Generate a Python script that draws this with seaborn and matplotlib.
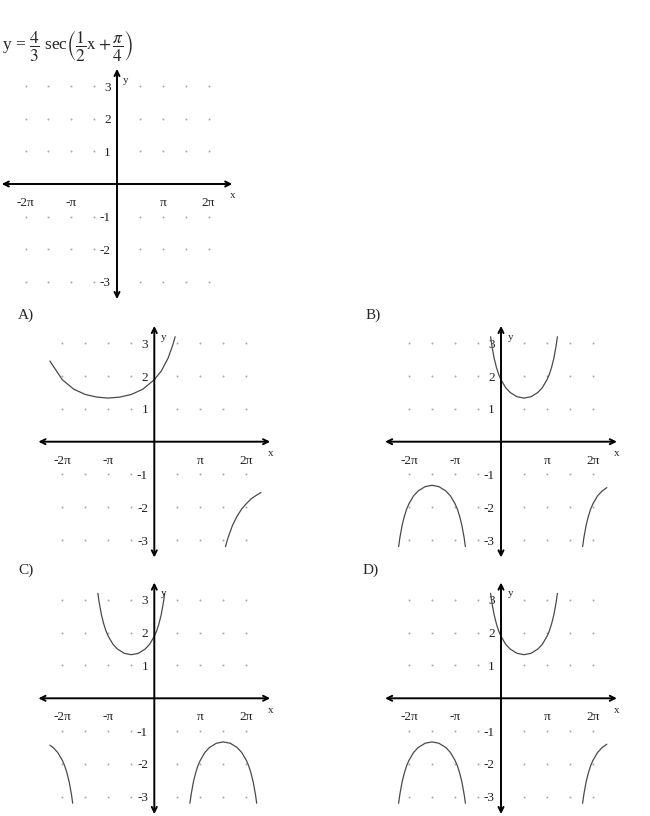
import numpy as np
import seaborn as sns
import matplotlib.pyplot as plt
from matplotlib.ticker import FixedLocator, FixedFormatter

x_ticks = [-2, -1.5, -1, -0.5, 0.5, 1, 1.5, 2]
x_tick_labels = ["-2π", "", "-π", "", "", "π", "", "2π"]
y_ticks = [-3, -2, -1, 1, 2, 3]
y_tick_labels = ["-3", "-2", "-1", "1", "2", "3"]

# A)
a_up_x = [-2.27, -2.0, -1.75, -1.5, -1.25, -1.0, -0.75, -0.5, -0.25, 0.0, 0.15, 0.3, 0.4, 0.453]
a_up_y = [2.46, 1.89, 1.60, 1.44, 1.36, 1.33, 1.36, 1.44, 1.60, 1.89, 2.15, 2.55, 2.94, 3.20]
a_lo_x = [1.547, 1.6, 1.7, 1.8, 1.9, 2.0, 2.1, 2.2, 2.32]
a_lo_y = [-3.20, -2.94, -2.55, -2.27, -2.05, -1.89, -1.75, -1.65, -1.55]

# B) and D) (same graph)
bd_up_x = [-0.226, -0.2, -0.15, -0.1, -0.05, 0.0, 0.1, 0.2, 0.35, 0.5, 0.65, 0.8, 0.9, 1.0, 1.05, 1.1, 1.15, 1.2, 1.226]
bd_up_y = [3.20, 2.94, 2.55, 2.27, 2.05, 1.89, 1.65, 1.50, 1.37, 1.33, 1.37, 1.50, 1.65, 1.89, 2.05, 2.27, 2.55, 2.94, 3.20]
bd_lol_x = [-2.226, -2.2, -2.15, -2.1, -2.05, -2.0, -1.9, -1.8, -1.65, -1.5, -1.35, -1.2, -1.1, -1.0, -0.95, -0.9, -0.85, -0.8, -0.774]
bd_lol_y = [-3.20, -2.94, -2.55, -2.27, -2.05, -1.89, -1.65, -1.50, -1.37, -1.33, -1.37, -1.50, -1.65, -1.89, -2.05, -2.27, -2.55, -2.94, -3.20]
bd_lor_x = [1.774, 1.8, 1.85, 1.9, 1.95, 2.0, 2.1, 2.2, 2.3]
bd_lor_y = [-3.20, -2.94, -2.55, -2.27, -2.05, -1.89, -1.65, -1.50, -1.40]

# C)
c_up_x = [-1.226, -1.2, -1.15, -1.1, -1.05, -1.0, -0.9, -0.8, -0.65, -0.5, -0.35, -0.2, -0.1, 0.0, 0.05, 0.1, 0.15, 0.2, 0.226]
c_up_y = [3.20, 2.94, 2.55, 2.27, 2.05, 1.89, 1.65, 1.50, 1.37, 1.33, 1.37, 1.50, 1.65, 1.89, 2.05, 2.27, 2.55, 2.94, 3.20]
c_lor_x = [0.774, 0.8, 0.85, 0.9, 0.95, 1.0, 1.1, 1.2, 1.35, 1.5, 1.65, 1.8, 1.9, 2.0, 2.05, 2.1, 2.15, 2.2, 2.226]
c_lor_y = [-3.20, -2.94, -2.55, -2.27, -2.05, -1.89, -1.65, -1.50, -1.37, -1.33, -1.37, -1.50, -1.65, -1.89, -2.05, -2.27, -2.55, -2.94, -3.20]
c_lol_x = [-2.27, -2.2, -2.1, -2.0, -1.95, -1.9, -1.85, -1.8, -1.774]
c_lol_y = [-1.43, -1.50, -1.65, -1.89, -2.05, -2.27, -2.55, -2.94, -3.20]

W, H = 650, 816

sns.set_theme(style="white")
plt.rcParams["font.family"] = ["Liberation Serif", "DejaVu Serif"]
plt.rcParams["mathtext.fontset"] = "stix"

fig = plt.figure(figsize=(W / 100, H / 100), dpi=100)


def make_panel(ox, oy, sx, sy, branches):
    xl, yl = 2.56, 3.6
    w, h = 2 * xl * sx, 2 * yl * sy
    left, top = ox - xl * sx, oy - yl * sy
    ax = fig.add_axes([left / W, 1 - (top + h) / H, w / W, h / H])
    ax.set_xlim(-xl, xl)
    ax.set_ylim(-yl, yl)
    for s in ax.spines.values():
        s.set_color("none")
    ax.spines["left"].set_position("zero")
    ax.spines["bottom"].set_position("zero")
    ax.xaxis.set_major_locator(FixedLocator(x_ticks))
    ax.xaxis.set_major_formatter(FixedFormatter(x_tick_labels))
    ax.yaxis.set_major_locator(FixedLocator(y_ticks))
    ax.yaxis.set_major_formatter(FixedFormatter(y_tick_labels))
    ax.tick_params(axis="both", direction="inout", length=8, width=1.3,
                   color="black", labelsize=9.5, labelcolor="#222222")
    ax.tick_params(axis="x", pad=5.5)
    ax.tick_params(axis="y", pad=0.5)

    # dotted grid
    gx, gy = np.meshgrid(x_ticks, y_ticks)
    sns.scatterplot(x=gx.ravel(), y=gy.ravel(), ax=ax, s=2, color="#a8a8a8",
                    linewidth=0, zorder=1)

    # axes with arrow heads
    arrow = dict(arrowstyle="<->", lw=1.4, color="black", shrinkA=0, shrinkB=0,
                 mutation_scale=9)
    ax.annotate("", xy=(2.52, 0), xytext=(-2.52, 0), arrowprops=arrow)
    ax.annotate("", xy=(0, 3.53), xytext=(0, -3.53), arrowprops=arrow)
    ax.text(2.52, -0.36, "x", ha="center", va="center", fontsize=8)
    ax.text(0.2, 3.19, "y", ha="center", va="center", fontsize=8)

    for bx, by in branches:
        sns.lineplot(x=bx, y=by, ax=ax, color="#4a4a4a", linewidth=0.9,
                     estimator=None, sort=False)
    return ax


make_panel(117, 184, 45.75, 32.6, [])
make_panel(154.3, 441.7, 46, 32.8, [(a_up_x, a_up_y), (a_lo_x, a_lo_y)])
make_panel(501, 441.7, 46, 32.8, [(bd_up_x, bd_up_y), (bd_lol_x, bd_lol_y), (bd_lor_x, bd_lor_y)])
make_panel(154.3, 698.3, 46, 32.8, [(c_up_x, c_up_y), (c_lor_x, c_lor_y), (c_lol_x, c_lol_y)])
make_panel(501, 698.3, 46, 32.8, [(bd_up_x, bd_up_y), (bd_lol_x, bd_lol_y), (bd_lor_x, bd_lor_y)])

fig.text(2 / W, 1 - 46 / H,
         r"y = $\dfrac{4}{3}$ sec$\left(\dfrac{1}{2}\mathrm{x} + \dfrac{\pi}{4}\right)$",
         ha="left", va="center", fontsize=12.5)

for lab, lx, ly in [("A)", 18, 315), ("B)", 366, 315), ("C)", 18, 570), ("D)", 363, 570)]:
    fig.text(lx / W, 1 - ly / H, lab, ha="left", va="center", fontsize=11)

fig.savefig("out.png", dpi=100)
